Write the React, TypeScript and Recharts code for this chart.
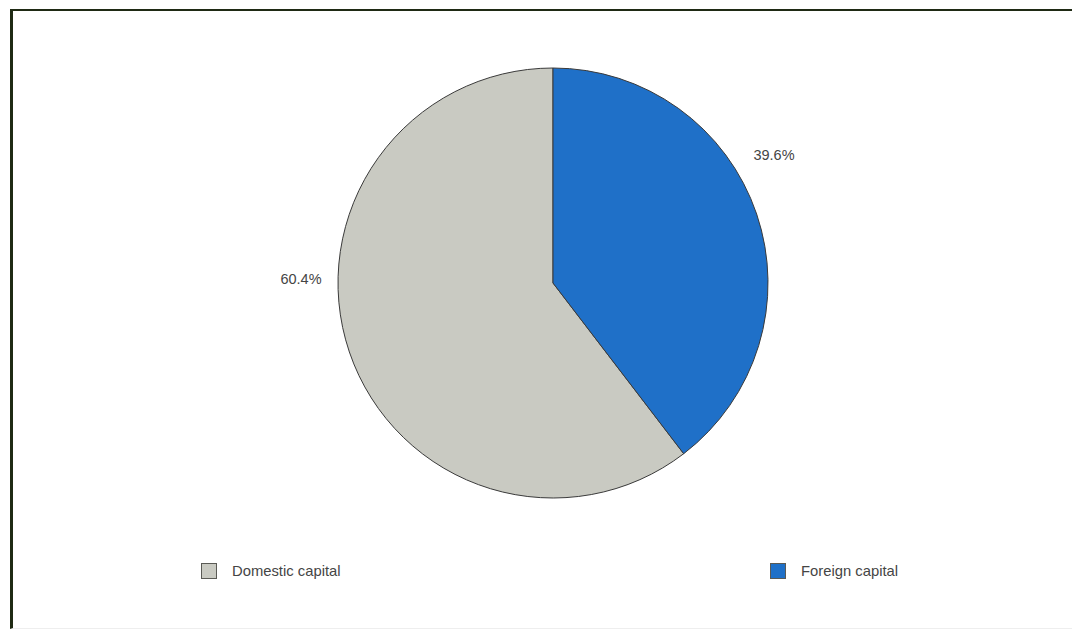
import React from "react";
import { PieChart, Pie, Cell, Legend } from "recharts";

const categories = ["Domestic capital", "Foreign capital"];
const shares = [60.4, 39.6];
const colors = ["#c9cac2", "#1f70c8"];

const data = categories.map((name, i) => ({ name, value: shares[i] }));

const labelOffsets: Record<number, { dx: number; dy: number }> = {
  0: { dx: -252, dy: -4 },
  1: { dx: 221, dy: -128 },
};

const renderLabel = (props: any) => {
  const { cx, cy, index, value } = props;
  const o = labelOffsets[index];
  return (
    <text
      x={cx + o.dx}
      y={cy + o.dy}
      textAnchor="middle"
      dominantBaseline="central"
      fontFamily="Liberation Sans, Arial, sans-serif"
      fontSize={14.5}
      fill="#454545"
    >
      {value.toFixed(1)}%
    </text>
  );
};

const legendX = [201, 770];

const renderLegend = (props: any) => {
  const { payload } = props;
  return (
    <div style={{ position: "relative", width: 1072, height: 20 }}>
      {payload.map((p: any, i: number) => (
        <div
          key={i}
          style={{
            position: "absolute",
            left: legendX[i],
            top: 0,
            display: "flex",
            alignItems: "center",
            fontFamily: "Liberation Sans, Arial, sans-serif",
            fontSize: 14.8,
            color: "#454545",
          }}
        >
          <span
            style={{
              display: "inline-block",
              width: 16,
              height: 16,
              boxSizing: "border-box",
              background: p.color,
              border: "1.5px solid #5a5a55",
              marginRight: 15,
            }}
          />
          {p.value}
        </div>
      ))}
    </div>
  );
};

export default function App() {
  return (
    <div
      style={{
        position: "absolute",
        left: 0,
        top: 0,
        width: 1072,
        height: 632,
        background: "#fff",
      }}
    >
      <div
        style={{
          position: "absolute",
          left: 10,
          top: 9,
          width: 1062,
          height: 620,
          borderTop: "2px solid #1f2a14",
          borderLeft: "3px solid #1f2a14",
          borderBottom: "1px solid #eee",
          boxSizing: "border-box",
        }}
      />
      <div style={{ position: "absolute", left: 0, top: 0 }}>
        <PieChart
          width={1072}
          height={632}
          margin={{ top: 0, right: 0, bottom: 0, left: 0 }}
        >
          <Pie
            data={data}
            dataKey="value"
            nameKey="name"
            cx={553}
            cy={283}
            outerRadius={215}
            startAngle={-270}
            endAngle={90}
            stroke="#3a3a3a"
            strokeWidth={1}
            label={renderLabel}
            labelLine={false}
            isAnimationActive={false}
          >
            {data.map((d, i) => (
              <Cell key={d.name} fill={colors[i]} />
            ))}
          </Pie>
          <Legend
            verticalAlign="bottom"
            wrapperStyle={{ position: "absolute", left: 0, top: 563, width: 1072 }}
            content={renderLegend}
          />
        </PieChart>
      </div>
    </div>
  );
}
